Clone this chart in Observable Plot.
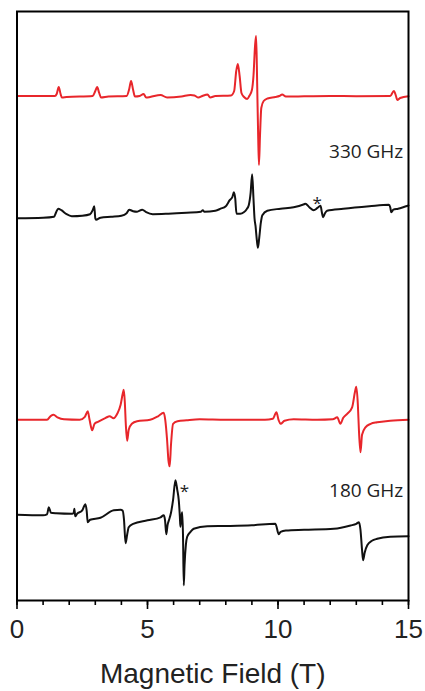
<!DOCTYPE html>
<html>
<head>
<meta charset="utf-8">
<script src="https://cdn.jsdelivr.net/npm/d3@7"></script>
<script src="https://cdn.jsdelivr.net/npm/@observablehq/plot@0.6"></script>
<style>
  html, body { margin: 0; padding: 0; background: #fff; }
  #chart { width: 425px; height: 691px; }
</style>
</head>
<body>
<div id="chart"></div>
<script>
// ---- Data (field in T, signal in arbitrary units relative to each trace's baseline) ----
const sim330Field  = [0,1.45,1.52,1.6,1.67,1.72,1.9,2.9,3.0,3.07,3.15,3.22,3.5,4.2,4.3,4.37,4.45,4.52,4.7,4.85,4.95,5.1,5.5,5.75,6.3,6.65,6.8,6.95,7.1,7.3,7.4,7.6,8.2,8.32,8.4,8.46,8.53,8.6,8.7,8.82,8.9,9.0,9.06,9.12,9.16,9.19,9.21,9.24,9.27,9.31,9.36,9.45,9.6,9.9,10.05,10.16,10.3,11,12,13,14.3,14.44,14.52,14.57,14.68,15];
const sim330Signal = [0,0,2,9,2,-1.5,-1,0,5,9,3,-1.5,-0.5,0,7,15,6,-0.5,0,2,-1.5,-1,1,-1.5,-0.5,1,0.5,-1.5,0,1.5,-1.5,0,0.5,5,25,32,20,3,-1,-3,0,6,20,50,60,30,0,-40,-69,-40,-12,-5,-2.5,-1,0,1.5,-0.5,-0.3,0,-0.2,0,5,0,-4,-2,-0.3];

const exp330Field  = [0,1.0,1.42,1.5,1.58,1.7,1.9,2.1,2.5,2.8,2.9,2.96,3.0,3.03,3.2,3.6,4.0,4.2,4.3,4.45,4.6,4.8,4.95,5.2,5.8,6.5,7.05,7.12,7.18,7.6,7.8,8.0,8.15,8.25,8.31,8.36,8.41,8.55,8.69,8.8,8.88,8.95,9.01,9.06,9.1,9.14,9.19,9.23,9.28,9.34,9.4,9.59,10.1,10.6,11.0,11.05,11.2,11.37,11.5,11.63,11.68,11.73,11.8,11.88,12.5,13.5,14.25,14.3,14.34,14.42,14.6,15];
const exp330Signal = [0,0.5,1.5,6,9.5,8,4,2,2.5,4,8,12,0,-1.5,0.5,1.5,2.5,5,8.5,7,6.5,8.5,6,4,4.5,5.5,6.5,8,6.5,7.5,9.5,12,18,21,26,20,4.5,4.5,6,9,13,25,44,20,0,-8,-22,-29.5,-20,-5,3,7.5,9.5,11,14,14.5,11,8,10,12.5,6,1,5,7.5,9.5,12,13.5,11,6,8.5,9.5,12.7];

const sim180Field  = [0,1.15,1.3,1.4,1.55,1.8,2.4,2.6,2.71,2.78,2.88,2.97,3.1,3.4,3.55,3.7,3.84,3.97,4.05,4.09,4.13,4.17,4.22,4.28,4.4,4.6,5.1,5.4,5.62,5.68,5.75,5.8,5.85,5.9,5.98,6.15,6.5,7,8,9.5,9.8,9.94,10.02,10.1,10.25,10.6,11.5,12.1,12.27,12.39,12.5,12.65,12.84,12.95,13.0,13.06,13.1,13.16,13.22,13.35,13.55,13.8,14.3,15];
const sim180Signal = [0,0,4,5,2.5,0.5,0,3,8.5,0,-10.5,-4,-2,2,3.5,1.5,6,15,26,30,18,-5,-21,-10,-4,-1.5,0,3.5,7,0,-20,-40,-46.5,-25,-4,-1.5,-0.5,0.5,0,0,1,7.5,0,-4,-1,0.5,0,0.5,2.5,-4,2,6,12.5,28,33,15,-10,-32.5,-15,-7.5,-4,-2.5,-1,0];

const exp180Field  = [0,1.0,1.15,1.22,1.3,1.5,2.11,2.17,2.2,2.23,2.3,2.5,2.58,2.62,2.67,2.71,2.8,3.2,3.71,3.97,4.05,4.1,4.16,4.22,4.28,4.45,5.0,5.5,5.62,5.67,5.72,5.77,5.82,5.9,5.98,6.07,6.14,6.2,6.24,6.26,6.3,6.33,6.36,6.39,6.42,6.47,6.52,6.65,6.77,7.29,8,9,9.9,10.03,10.1,10.3,11,12.14,12.78,13.0,13.1,13.16,13.22,13.26,13.32,13.42,13.6,13.8,14.3,15];
const exp180Signal = [0,-0.5,0.5,7.5,2,1.5,1,2,6,-1.5,1,4.5,9,10.5,4,-7.5,-5,-3,4.5,5,4,-5,-28.5,-20,-12.5,-9,-5.5,-2.5,-0.5,-5,-19.5,-10,-5.5,2,15,34.5,25,14,-2,-12,-2,2.5,-20,-70.5,-50,-30,-22,-17,-14,-11.5,-11.2,-10.5,-9,-19.5,-17,-15.7,-15,-14,-10.7,-9,-7.5,-15,-35,-45.5,-38,-30.5,-26,-24,-22,-21.5];

const traceNames   = ["330 GHz simulation", "330 GHz experiment", "180 GHz simulation", "180 GHz experiment"];
const traceOffsets = [504.5, 382.3, 180.7, 85.7];
const traceColors  = ["#e8262b", "#111111", "#e8262b", "#111111"];

const labelTexts   = ["330 GHz", "180 GHz"];
const labelFields  = [14.8, 14.8];
const labelLevels  = [448.3, 110];

const starFields   = [11.5, 6.42];
const starLevels   = [400.5, 112.5];

const majorTicks = [0, 5, 10, 15];
const minorTicks = d3.range(0, 16, 1);
const xLabel = "Magnetic Field (T)";

// ---- Build table ----
const fields  = [sim330Field, exp330Field, sim180Field, exp180Field];
const signals = [sim330Signal, exp330Signal, sim180Signal, exp180Signal];
const rows = [];
fields.forEach((f, i) => {
  f.forEach((x, j) => rows.push({trace: traceNames[i], field: x, value: traceOffsets[i] + signals[i][j]}));
});
const labels = labelTexts.map((t, i) => ({text: t, field: labelFields[i], value: labelLevels[i]}));
const stars  = starFields.map((f, i) => ({field: f, value: starLevels[i]}));

const chart = Plot.plot({
  width: 425,
  height: 691,
  marginLeft: 16.5,
  marginRight: 17,
  marginTop: 11,
  marginBottom: 91,
  style: {fontFamily: "'Liberation Sans', Arial, sans-serif", background: "#fff", overflow: "visible"},
  x: {domain: [0, 15]},
  y: {domain: [0, 589], axis: null},
  color: {domain: traceNames, range: traceColors},
  marks: [
    Plot.line(rows, {x: "field", y: "value", z: "trace", stroke: "trace", strokeWidth: 2, curve: "monotone-x"}),
    Plot.text(labels, {x: "field", y: "value", text: "text", textAnchor: "end", fontSize: 19, fill: "#222",
      fontFamily: "'Open Sans', 'Noto Sans', sans-serif"}),
    Plot.text(stars, {x: "field", y: "value", text: () => "*", fontSize: 17, fill: "#222", dy: 4,
      fontFamily: "'Open Sans', 'Noto Sans', sans-serif"}),
    Plot.axisX({ticks: minorTicks, tickSize: 5, tickFormat: () => "", strokeWidth: 1.6, stroke: "#000", label: null}),
    Plot.axisX({ticks: majorTicks, tickSize: 9, tickPadding: 10, fontSize: 26, strokeWidth: 1.6, stroke: "#000", fill: "#222", label: null}),
    Plot.text([xLabel], {frameAnchor: "bottom", text: d => d, dy: 63, lineAnchor: "top", fontSize: 28, fill: "#222"}),
    Plot.frame({stroke: "#000", strokeWidth: 2})
  ]
});
document.getElementById("chart").appendChild(chart);
</script>
</body>
</html>
